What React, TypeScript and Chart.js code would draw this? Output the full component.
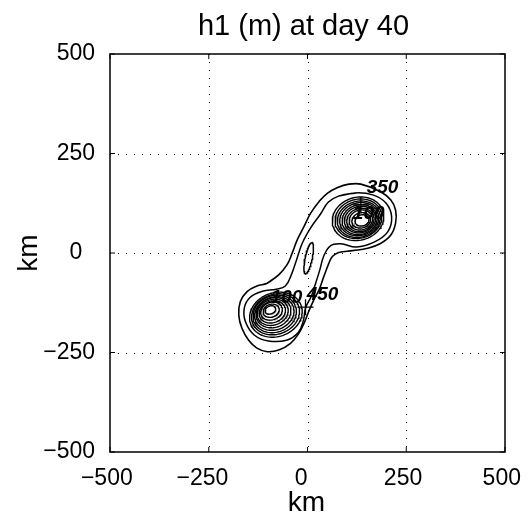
import React, { useEffect, useRef } from "react";
import { Chart, registerables } from "chart.js";

Chart.register(...registerables);

// ---------- text ----------
const TITLE = "h1 (m) at day 40";
const X_LABEL = "km";
const Y_LABEL = "km";

// ---------- axes ----------
const AXIS_MIN = -500;
const AXIS_MAX = 500;
const TICK_STEP = 250;
const gridValues = [-250, 0, 250];
const tickValues = [-500, -250, 0, 250, 500];

// ---------- outer contour (km) ----------
const outerX = [-102, -73, -52, -39, -26, -9, 8, 29, 50, 75, 105, 135, 185, 211, 223, 223, 211, 185, 152, 114, 79, 63, 54, 41, 29, 16, 1, -9, -22, -43, -73, -102, -128, -149, -166, -174, -170, -153, -128];
const outerY = [-76, -55, -30, -1, 33, 66, 100, 129, 150, 164, 173, 173, 154, 133, 108, 75, 45, 24, 12, 6, 1, -9, -26, -60, -93, -118, -152, -177, -202, -227, -244, -248, -239, -219, -189, -156, -122, -97, -83];

// ---------- second contour (km), pinched neck ----------
const secondX = [79, 122, 165, 198, 213, 203, 170, 124, 84, 58, 41, 31, 20, 10, -5, -10, -23, -53, -99, -135, -157, -160, -145, -114, -79, -56, -41, -28, -13, 8, 33, 53];
const secondY = [143, 151, 146, 126, 91, 53, 28, 15, 23, 18, -8, -43, -78, -108, -138, -168, -199, -219, -221, -206, -173, -138, -111, -96, -91, -83, -55, -18, 25, 63, 98, 128];

// ---------- small closed contour in the neck ----------
const neckCx = 3;
const neckCy = -13;
const neckRx = 40;
const neckRy = 9;
const neckTilt = 78;

// ---------- upper (north-east) eddy rings ----------
const upperCx = [128, 129, 130, 131, 132, 133, 134, 135, 136, 138];
const upperCy = [86, 86, 85, 85, 84, 84, 83, 83, 82, 82];
const upperRx = [66, 60, 55, 50, 45, 40, 35, 30, 24, 18];
const upperRy = [54, 49, 45, 41, 37, 33, 29, 25, 19, 14];
const upperTilt = 15;

// ---------- lower (south-west) eddy rings ----------
const lowerCx = [-80, -81, -83, -84, -86, -88, -89, -91, -92, -94];
const lowerCy = [-155, -154, -153, -152, -150, -149, -148, -146, -145, -143];
const lowerRx = [68, 62, 56, 51, 45, 40, 34, 28, 21, 14];
const lowerRy = [55, 50, 46, 41, 37, 32, 27, 22, 16, 10];
const lowerTilt = 20;

// ---------- contour labels ----------
const clabelText = ["350", "100", "100", "450"];
const clabelX = [190, 155, -53, 38];
const clabelY = [163, 98, -113, -106];
const crossX = [135, -5];
const crossY = [121, -136];

// ---------- tick label text ----------
const xTickText = ["\u2212500 ", "\u2212250  ", "0  ", "250 ", "500 "];
const yTickText = ["\u2212500", "\u2212250", "0  ", "250", "500"];

const FONT = "'Liberation Sans', Arial, Helvetica, sans-serif";

type P = { x: number; y: number };

function ringPoints(cx: number, cy: number, rx: number, ry: number, tiltDeg: number): P[] {
  const t = (tiltDeg * Math.PI) / 180;
  const pts: P[] = [];
  const n = 90;
  for (let i = 0; i <= n; i++) {
    const a = (i / n) * 2 * Math.PI;
    const ex = rx * Math.cos(a);
    const ey = ry * Math.sin(a);
    pts.push({ x: cx + ex * Math.cos(t) - ey * Math.sin(t), y: cy + ex * Math.sin(t) + ey * Math.cos(t) });
  }
  return pts;
}

function closedPath(xs: number[], ys: number[]): P[] {
  const pts = xs.map((x, i) => ({ x, y: ys[i] }));
  pts.push({ ...pts[0] });
  pts.push({ ...pts[1] });
  return pts;
}

const labelFor = (v: number, texts: string[]) => {
  const i = tickValues.indexOf(v);
  return i >= 0 ? texts[i] : "";
};

const framePlugin = {
  id: "matlabFrame",
  beforeDatasetsDraw(chart: any) {
    const { ctx, chartArea } = chart;
    const xs = chart.scales.x;
    const ys = chart.scales.y;
    ctx.save();
    ctx.strokeStyle = "#000";
    ctx.lineWidth = 1;
    ctx.setLineDash([1, 7]);
    gridValues.forEach((v) => {
      const px = Math.round(xs.getPixelForValue(v)) + 0.5;
      ctx.beginPath();
      ctx.moveTo(px, chartArea.top);
      ctx.lineTo(px, chartArea.bottom);
      ctx.stroke();
      const py = Math.round(ys.getPixelForValue(v)) + 0.5;
      ctx.beginPath();
      ctx.moveTo(chartArea.left, py);
      ctx.lineTo(chartArea.right, py);
      ctx.stroke();
    });
    ctx.restore();
  },
  afterDraw(chart: any) {
    const { ctx, chartArea } = chart;
    const xs = chart.scales.x;
    const ys = chart.scales.y;
    ctx.save();
    ctx.strokeStyle = "#000";
    ctx.lineWidth = 1.5;
    ctx.setLineDash([]);
    ctx.strokeRect(chartArea.left, chartArea.top, chartArea.right - chartArea.left, chartArea.bottom - chartArea.top);
    ctx.lineWidth = 1;
    const tl = 5;
    tickValues.forEach((v) => {
      const px = xs.getPixelForValue(v);
      ctx.beginPath();
      ctx.moveTo(px, chartArea.bottom);
      ctx.lineTo(px, chartArea.bottom - tl);
      ctx.moveTo(px, chartArea.top);
      ctx.lineTo(px, chartArea.top + tl);
      ctx.stroke();
      const py = ys.getPixelForValue(v);
      ctx.beginPath();
      ctx.moveTo(chartArea.left, py);
      ctx.lineTo(chartArea.left + tl, py);
      ctx.moveTo(chartArea.right, py);
      ctx.lineTo(chartArea.right - tl, py);
      ctx.stroke();
    });
    ctx.fillStyle = "#000";
    ctx.font = `italic bold 19px ${FONT}`;
    ctx.textAlign = "center";
    ctx.textBaseline = "middle";
    clabelText.forEach((t, i) => {
      ctx.fillText(t, xs.getPixelForValue(clabelX[i]), ys.getPixelForValue(clabelY[i]));
    });
    const cx = (chartArea.left + chartArea.right) / 2;
    ctx.font = `29px ${FONT}`;
    ctx.textAlign = "center";
    ctx.textBaseline = "alphabetic";
    ctx.fillText(TITLE, cx - 4, 35);
    ctx.font = `28px ${FONT}`;
    ctx.fillText(X_LABEL, cx - 1, 511);
    ctx.translate(37, (chartArea.top + chartArea.bottom) / 2);
    ctx.rotate(-Math.PI / 2);
    ctx.fillText(Y_LABEL, 0, 0);
    ctx.restore();
  },
};

export default function App() {
  const canvasRef = useRef<HTMLCanvasElement | null>(null);

  useEffect(() => {
    const canvas = canvasRef.current;
    if (!canvas) return;

    const lineDs = (data: P[], width: number, tension: number) => ({
      data,
      showLine: true,
      fill: false,
      pointRadius: 0,
      borderColor: "#000",
      backgroundColor: "#000",
      borderWidth: width,
      tension,
    });

    const datasets: any[] = [];
    datasets.push(lineDs(closedPath(outerX, outerY), 1.6, 0.4));
    datasets.push(lineDs(closedPath(secondX, secondY), 1.5, 0.4));
    datasets.push(lineDs(ringPoints(neckCx, neckCy, neckRx, neckRy, neckTilt), 1.5, 0));
    upperCx.forEach((_, i) => {
      datasets.push(lineDs(ringPoints(upperCx[i], upperCy[i], upperRx[i], upperRy[i], upperTilt), 1.4, 0));
    });
    lowerCx.forEach((_, i) => {
      datasets.push(lineDs(ringPoints(lowerCx[i], lowerCy[i], lowerRx[i], lowerRy[i], lowerTilt), 1.4, 0));
    });
    datasets.push({
      data: crossX.map((x, i) => ({ x, y: crossY[i] })),
      showLine: false,
      pointStyle: "cross",
      pointRadius: 8,
      borderColor: "#000",
      borderWidth: 1.3,
    });

    const chart = new Chart(canvas, {
      type: "scatter",
      data: { datasets },
      plugins: [framePlugin],
      options: {
        responsive: false,
        maintainAspectRatio: false,
        devicePixelRatio: 1,
        animation: false,
        events: [],
        layout: { padding: { top: 54, right: 24, bottom: 0, left: 0 } },
        plugins: { legend: { display: false }, tooltip: { enabled: false }, title: { display: false } },
        scales: {
          x: {
            type: "linear",
            min: AXIS_MIN,
            max: AXIS_MAX,
            grid: { display: false, drawTicks: false },
            border: { display: false },
            afterFit: (s: any) => {
              s.height = 64;
              s.paddingLeft = 0;
              s.paddingRight = 0;
            },
            ticks: {
              stepSize: TICK_STEP,
              padding: 13,
              color: "#000",
              maxRotation: 0,
              font: { family: FONT, size: 23 },
              callback: (v: any) => labelFor(Number(v), xTickText),
            },
          },
          y: {
            type: "linear",
            min: AXIS_MIN,
            max: AXIS_MAX,
            grid: { display: false, drawTicks: false },
            border: { display: false },
            afterFit: (s: any) => {
              s.width = 110;
              s.paddingTop = 0;
              s.paddingBottom = 0;
            },
            ticks: {
              stepSize: TICK_STEP,
              padding: 15,
              color: "#000",
              font: { family: FONT, size: 23 },
              callback: (v: any) => labelFor(Number(v), yTickText),
            },
          },
        },
      },
    });
    return () => chart.destroy();
  }, []);

  return (
    <div style={{ position: "fixed", left: 0, top: 0, width: 529, height: 516, background: "#fff" }}>
      <canvas ref={canvasRef} width={529} height={516} style={{ display: "block" }} />
    </div>
  );
}
